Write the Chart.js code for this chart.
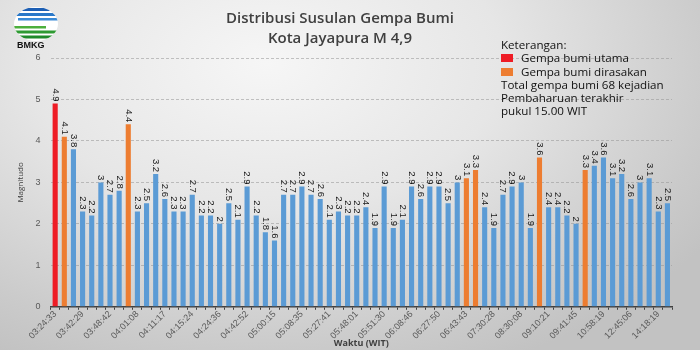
<!DOCTYPE html>
<html>
<head>
<meta charset="utf-8">
<script src="https://cdn.jsdelivr.net/npm/chart.js@4.4.1/dist/chart.umd.min.js"></script>
<style>
  html, body { margin: 0; padding: 0; }
  body { width: 700px; height: 350px; overflow: hidden; }
  #wrap {
    position: relative; width: 700px; height: 350px;
    background: radial-gradient(ellipse 75% 95% at 38% 18%, #f6f6f6 0%, #e6e6e6 45%, #cbcbcb 85%, #c2c2c2 100%);
    font-family: "Open Sans", "Liberation Sans", sans-serif;
  }
  #c { position: absolute; left: 0; top: 0; }
  .title {
    position: absolute; left: 0; width: 680px; text-align: center;
    font-weight: 600; font-size: 15px; color: #404040; line-height: 21px;
  }
  #legend {
    position: absolute; left: 501px; top: 38px; font-size: 11.6px; color: #111;
    line-height: 13.3px;
  }
  .sw { display: inline-block; width: 12px; height: 8px; margin: 0 5px 0 0; }
  #logo { position: absolute; left: 12px; top: 6px; }
  #bmkg { position: absolute; left: 17px; top: 40px; font-family: "Liberation Sans", Arial, sans-serif; font-weight: bold; font-size: 9px; color: #111; }
</style>
</head>
<body>
<div id="wrap">
  <canvas id="c" width="700" height="350"></canvas>
  <div class="title" style="top:7px">Distribusi Susulan Gempa Bumi</div>
  <div class="title" style="top:27px">Kota Jayapura M 4,9</div>
  <svg id="logo" width="48" height="36" viewBox="0 0 48 36">
    <defs><clipPath id="cc"><ellipse cx="24" cy="18" rx="22" ry="17"/></clipPath></defs>
    <ellipse cx="24" cy="18" rx="22" ry="17" fill="#ffffff"/>
    <g clip-path="url(#cc)">
      <rect x="0" y="2" width="48" height="3" fill="#1d5fb4"/>
      <rect x="0" y="7" width="48" height="3" fill="#2a78c8"/>
      <rect x="6" y="12" width="40" height="2.5" fill="#3a8ad6"/>
      <rect x="0" y="20" width="34" height="2.5" fill="#4caf3c"/>
      <rect x="0" y="24.5" width="48" height="3" fill="#2e9a32"/>
      <rect x="0" y="29.5" width="48" height="3" fill="#1f8a2a"/>
    </g>
  </svg>
  <div id="bmkg">BMKG</div>
  <div id="legend">
    <div>Keterangan:</div>
    <div><span class="sw" style="background:#ee1c25"></span> Gempa bumi utama</div>
    <div><span class="sw" style="background:#ed7d31"></span> Gempa bumi dirasakan</div>
    <div>Total gempa bumi 68 kejadian</div>
    <div>Pembaharuan terakhir</div>
    <div>pukul 15.00 WIT</div>
  </div>
</div>
<script>
// Categories (only every third time label is readable in the reference)
const categories = [
  '03:24:33','','','03:42:29','','','03:48:42','','','04:01:08','','',
  '04:11:17','','','04:15:24','','','04:24:36','','','04:42:52','','',
  '05:00:15','','','05:08:35','','','05:27:41','','','05:48:01','','',
  '05:51:30','','','06:08:46','','','06:27:50','','','06:43:43','','',
  '07:30:28','','','08:30:08','','','09:10:21','','','09:41:45','','',
  '10:58:19','','','12:45:06','','','14:18:19',''
];
// Magnitudes
const magnitudes = [
  4.9, 4.1, 3.8, 2.3, 2.2, 3, 2.7, 2.8, 4.4, 2.3, 2.5, 3.2,
  2.6, 2.3, 2.3, 2.7, 2.2, 2.2, 2, 2.5, 2.1, 2.9, 2.2, 1.8,
  1.6, 2.7, 2.7, 2.9, 2.7, 2.6, 2.1, 2.3, 2.2, 2.2, 2.4, 1.9,
  2.9, 1.9, 2.1, 2.9, 2.6, 2.9, 2.9, 2.5, 3, 3.1, 3.3, 2.4,
  1.9, 2.7, 2.9, 3, 1.9, 3.6, 2.4, 2.4, 2.2, 2, 3.3, 3.4,
  3.6, 3.1, 3.2, 2.6, 3, 3.1, 2.3, 2.5
];
// Event type per bar index
const mainShockIndex = [0];
const feltIndex = [1, 8, 45, 46, 53, 58];
const yTicks = [0, 1, 2, 3, 4, 5, 6];

const COLOR_MAIN = '#ee1c25', COLOR_FELT = '#ed7d31', COLOR_AFTER = '#5b9bd5';
const barColors = magnitudes.map((v, i) =>
  mainShockIndex.includes(i) ? COLOR_MAIN : (feltIndex.includes(i) ? COLOR_FELT : COLOR_AFTER));

const valueLabels = {
  id: 'valueLabels',
  afterDatasetsDraw(chart) {
    const ctx = chart.ctx;
    const meta = chart.getDatasetMeta(0);
    ctx.save();
    ctx.font = '9.5px "Liberation Sans", Arial, sans-serif';
    ctx.fillStyle = '#1a1a1a';
    meta.data.forEach((bar, i) => {
      ctx.save();
      ctx.translate(bar.x, bar.y - 2);
      ctx.rotate(Math.PI / 2);
      ctx.textAlign = 'right';
      ctx.textBaseline = 'middle';
      ctx.fillText(String(magnitudes[i]), 0, 0);
      ctx.restore();
    });
    ctx.restore();
  }
};

new Chart(document.getElementById('c'), {
  type: 'bar',
  data: {
    labels: categories,
    datasets: [{
      data: magnitudes,
      backgroundColor: barColors,
      borderWidth: 0,
      barPercentage: 0.56,
      categoryPercentage: 1
    }]
  },
  options: {
    responsive: false,
    animation: false,
    devicePixelRatio: 1,
    layout: { padding: { top: 58, left: 16, right: 28, bottom: 0 } },
    plugins: { legend: { display: false }, tooltip: { enabled: false }, title: { display: false } },
    scales: {
      x: {
        grid: { display: true, drawOnChartArea: false, color: '#404040', tickLength: 3, tickColor: '#404040' },
        border: { display: true, color: '#404040', width: 1.5 },
        ticks: {
          autoSkip: false, maxRotation: 45, minRotation: 45,
          color: '#595959', font: { size: 9, family: '"Liberation Sans", Arial, sans-serif' },
          padding: -1,
          callback: (v, i) => categories[i]
        },
        title: { display: true, text: 'Waktu (WIT)', color: '#404040',
          font: { size: 9, weight: 'bold', family: '"Open Sans", Arial, sans-serif' }, padding: { top: -2, bottom: 1 } }
      },
      y: {
        min: yTicks[0], max: yTicks[yTicks.length - 1],
        afterBuildTicks: (axis) => { axis.ticks = yTicks.map(v => ({ value: v })); },
        grid: { color: 'rgba(150,150,150,0.55)', drawTicks: false },
        border: { display: false, dash: [3, 2] },
        ticks: { color: '#595959', font: { size: 9, family: '"Liberation Sans", Arial, sans-serif' }, padding: 10 },
        title: { display: true, text: 'Magnitudo', color: '#404040',
          font: { size: 8, family: '"Open Sans", Arial, sans-serif' }, padding: { top: 0, bottom: 0 } }
      }
    }
  },
  plugins: [valueLabels]
});
</script>
</body>
</html>
